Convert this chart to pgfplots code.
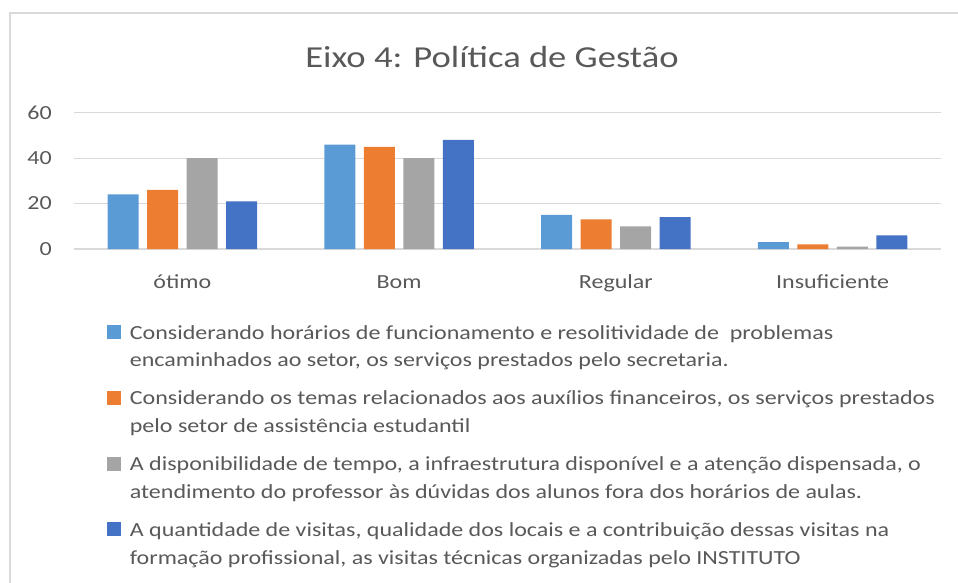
\documentclass[border=0pt]{standalone}
\usepackage{pgfplots}
\pgfplotsset{compat=1.18}
\usepackage{fontspec}
\setmainfont[FakeStretch=1.2]{Carlito}
\definecolor{txt}{HTML}{595959}
\definecolor{gridc}{HTML}{D9D9D9}
\definecolor{s1}{HTML}{5B9BD5}
\definecolor{s2}{HTML}{ED7D31}
\definecolor{s3}{HTML}{A5A5A5}
\definecolor{s4}{HTML}{4472C4}
\newcommand{\lt}[2]{\parbox[t]{850pt}{\rule{0pt}{15pt}#1\newline #2\rule[-6pt]{0pt}{6pt}}}
\begin{document}
\begin{tikzpicture}
\useasboundingbox (0,0) rectangle (958pt,-583pt);
\draw[gridc, line width=1.5pt] (10pt,-583pt) -- (10pt,-13pt) -- (958pt,-13pt);
\begin{axis}[
 at={(74pt,-249pt)}, anchor=south west,
 width=867pt, height=136.3pt, scale only axis,
 xmin=-0.5, xmax=3.5, ymin=0, ymax=60,
 ybar=8.5pt, bar width=31pt,
 xtick={0,1,2,3}, xticklabels={ótimo,Bom,Regular,Insuficiente},
 ytick={0,20,40,60},
 ymajorgrids, grid style={gridc, line width=1.2pt},
 axis line style={draw=none}, major tick length=0pt,
 tick label style={font=\fontsize{20}{24}\selectfont, text=txt},
 /pgf/number format/assume math mode=true,
 xticklabel style={anchor=base, inner sep=0pt, yshift=-39pt},
 yticklabel style={anchor=east, inner sep=0pt, xshift=-22pt},
 title={Eixo 4: Política de Gestão},
 title style={at={(0.5,1)}, anchor=base, yshift=39.4pt, xshift=-15.5pt, font=\fontsize{30.5}{36}\selectfont, text=txt, inner sep=0pt},
 legend style={at={(0.0384,-0.536)}, anchor=north west, draw=none, inner sep=0pt, outer sep=0pt, row sep=45.3pt, column sep=6.6pt, font=\fontsize{20}{27.7}\selectfont, text=txt, cells={anchor=base west, inner sep=0pt}},
 every axis plot post/.append style={legend image code/.code={\fill[##1] (0pt,0pt) rectangle (14pt,14pt);}},
]
\addplot[fill=s1, draw=none] coordinates {(0,24) (1,46) (2,15) (3,3)};
\addlegendentry{\lt{Considerando horários de funcionamento e resolitividade de\ \ problemas}{encaminhados ao setor, os serviços prestados pelo secretaria.}}
\addplot[fill=s2, draw=none] coordinates {(0,26) (1,45) (2,13) (3,2)};
\addlegendentry{\lt{Considerando os temas relacionados aos auxílios financeiros, os serviços prestados}{pelo setor de assistência estudantil}}
\addplot[fill=s3, draw=none] coordinates {(0,40) (1,40) (2,10) (3,1)};
\addlegendentry{\lt{A disponibilidade de tempo, a infraestrutura disponível e a atenção dispensada, o}{atendimento do professor às dúvidas dos alunos fora dos horários de aulas.}}
\addplot[fill=s4, draw=none] coordinates {(0,21) (1,48) (2,14) (3,6)};
\addlegendentry{\lt{A quantidade de visitas, qualidade dos locais e a contribuição dessas visitas na}{formação profissional, as visitas técnicas organizadas pelo INSTITUTO}}
\end{axis}
\end{tikzpicture}
\end{document}
